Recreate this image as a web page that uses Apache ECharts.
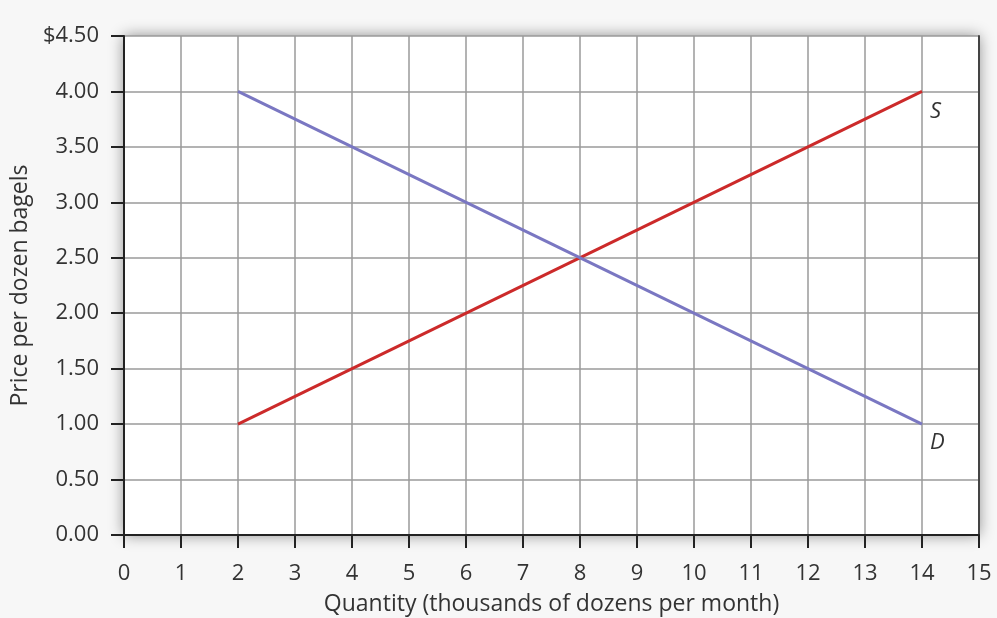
<!DOCTYPE html>
<html>
<head>
<meta charset="utf-8">
<script src="https://cdn.jsdelivr.net/npm/echarts@6/dist/echarts.min.js"></script>
<style>
  html, body { margin: 0; padding: 0; background: #f7f7f7; }
  #chart { width: 997px; height: 618px; }
</style>
</head>
<body>
<div id="chart"></div>
<script>
// 数据
const quantities = [2, 14];
const supplyPrices = [1.00, 4.00];
const demandPrices = [4.00, 1.00];
const supplyName = 'S';
const demandName = 'D';

const chart = echarts.init(document.getElementById('chart'));

const fontFam = '"Open Sans", "Noto Sans", sans-serif';

chart.setOption({
    backgroundColor: '#f7f7f7',
    animation: false,
    grid: {
        left: 124, right: 18, top: 36, bottom: 83,
        outerBoundsMode: 'none',
        containLabel: false,
        show: true,
        backgroundColor: '#ffffff',
        borderWidth: 0,
        shadowBlur: 14,
        shadowColor: 'rgba(0,0,0,0.45)'
    },
    xAxis: {
        type: 'value',
        min: 0, max: 15, interval: 1,
        name: 'Quantity (thousands of dozens per month)',
        nameLocation: 'middle',
        nameGap: 58,
        nameTextStyle: { fontSize: 23, color: '#333', fontFamily: fontFam },
        axisLine: { show: true, lineStyle: { color: '#222', width: 2 } },
        axisTick: { show: true, length: 13, lineStyle: { color: '#222', width: 2 } },
        axisLabel: { fontSize: 22, color: '#333', margin: 28, fontFamily: fontFam },
        splitLine: { show: true, lineStyle: { color: '#9a9a9a', width: 1.5 } }
    },
    yAxis: [
        {
            type: 'value',
            min: 0, max: 4.5, interval: 0.5,
            name: 'Price per dozen bagels',
            nameLocation: 'middle',
            nameGap: 91,
            nameTextStyle: { fontSize: 23, color: '#333', fontFamily: fontFam },
            axisLine: { show: true, lineStyle: { color: '#222', width: 2 } },
            axisTick: { show: true, length: 13, lineStyle: { color: '#222', width: 2 } },
            axisLabel: {
                fontSize: 22, color: '#333', margin: 25, fontFamily: fontFam,
                formatter: v => (v === 4.5 ? '$' : '') + v.toFixed(2)
            },
            splitLine: { show: true, lineStyle: { color: '#9a9a9a', width: 1.5 } }
        },
        {
            // 右侧边框
            type: 'value',
            position: 'right',
            min: 0, max: 4.5, interval: 0.5,
            axisLine: { show: true, lineStyle: { color: '#444', width: 2 } },
            axisTick: { show: false },
            axisLabel: { show: false },
            splitLine: { show: false }
        }
    ],
    series: [
        {
            name: supplyName,
            type: 'line',
            data: quantities.map((q, i) => [q, supplyPrices[i]]),
            symbol: 'none',
            lineStyle: { color: '#cc2a2a', width: 3 },
            endLabel: {
                show: true, formatter: supplyName,
                fontSize: 22, fontStyle: 'italic', color: '#333', fontFamily: fontFam,
                offset: [0, 20]
            }
        },
        {
            name: demandName,
            type: 'line',
            data: quantities.map((q, i) => [q, demandPrices[i]]),
            symbol: 'none',
            lineStyle: { color: '#7a77c2', width: 3 },
            endLabel: {
                show: true, formatter: demandName,
                fontSize: 22, fontStyle: 'italic', color: '#333', fontFamily: fontFam,
                offset: [0, 19]
            }
        }
    ]
});
</script>
</body>
</html>
